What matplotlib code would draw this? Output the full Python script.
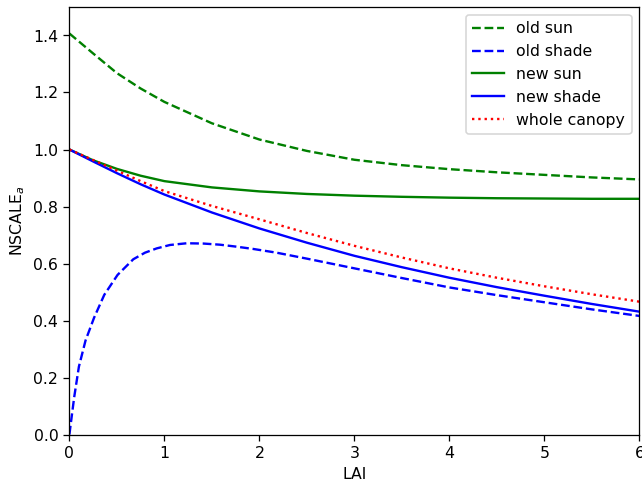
import numpy as np
import matplotlib
matplotlib.use('Agg')
import matplotlib.pyplot as plt

# values
lai = [0, 0.25, 0.5, 0.75, 1, 1.5, 2, 2.5, 3, 3.5, 4, 4.5, 5, 5.5, 6]
old_sun = [1.407, 1.337, 1.268, 1.214, 1.167, 1.092, 1.035, 0.995, 0.964, 0.945,
           0.931, 0.920, 0.911, 0.902, 0.895]
new_sun = [1.0, 0.962, 0.932, 0.908, 0.889, 0.867, 0.853, 0.844, 0.838, 0.834,
           0.831, 0.829, 0.828, 0.827, 0.827]
new_shade = [1.0, 0.958, 0.917, 0.878, 0.842, 0.779, 0.723, 0.673, 0.627, 0.587,
             0.550, 0.517, 0.487, 0.458, 0.431]
whole_canopy = [1.0, 0.963, 0.926, 0.889, 0.854, 0.802, 0.755, 0.707, 0.662, 0.621,
                0.583, 0.550, 0.520, 0.492, 0.466]

lai_old_shade = [0, 0.05, 0.1, 0.17, 0.26, 0.367, 0.507, 0.673, 0.796, 0.919,
                 1.059, 1.235, 1.41, 1.585, 1.76, 1.936, 2.18, 2.5, 3, 3.5,
                 4, 4.5, 5, 5.5, 6]
old_shade = [0.0, 0.13, 0.238, 0.33, 0.41, 0.49, 0.56, 0.615, 0.638, 0.653,
             0.665, 0.671, 0.670, 0.666, 0.659, 0.651, 0.638, 0.617, 0.583, 0.549,
             0.516, 0.489, 0.464, 0.439, 0.416]

dpi = 113.6
fig = plt.figure(figsize=(642 / dpi, 480 / dpi), dpi=dpi)
ax = fig.add_axes([69.4 / 642, 45.5 / 480, 570 / 642, 427.5 / 480])

ax.plot(lai, old_sun, 'g--', label='old sun')
ax.plot(lai_old_shade, old_shade, 'b--', label='old shade')
ax.plot(lai, new_sun, 'g-', label='new sun')
ax.plot(lai, new_shade, 'b-', label='new shade')
ax.plot(lai, whole_canopy, 'r:', label='whole canopy')

ax.set_xlim(0, 6)
ax.set_ylim(0, 1.5)
ax.set_xlabel('LAI')
ax.set_ylabel('NSCALE$_a$')
ax.legend(loc='upper right')

fig.savefig('out.png', dpi=dpi)
